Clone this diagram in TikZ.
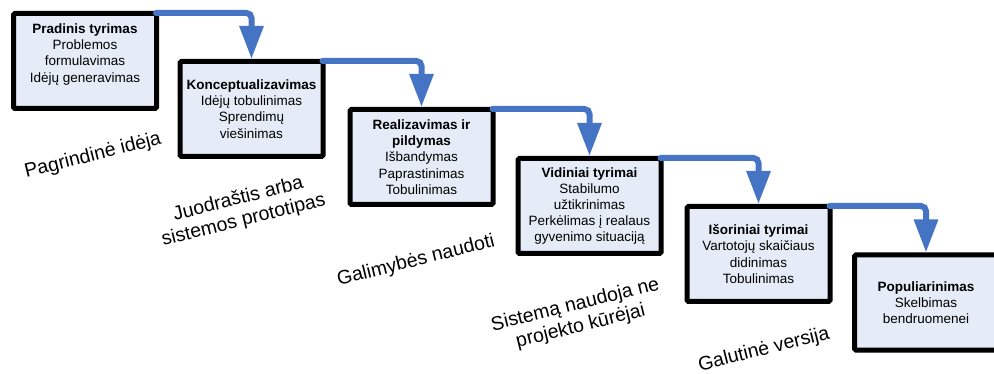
\documentclass[tikz,border=0pt]{standalone}
\usepackage{fontspec}
\setmainfont{Liberation Sans}
\usetikzlibrary{arrows.meta,calc}
\definecolor{boxfill}{RGB}{230,236,247}
\definecolor{flowblue}{RGB}{70,116,196}
\tikzset{
 stage/.style={draw=black, line width=5pt, fill=boxfill, rounded corners=1.5pt, minimum width=143pt, minimum height=95pt, inner sep=0pt, align=center, font=\fontsize{13.5}{16.2}\selectfont},
 flow/.style={draw=flowblue, line width=6pt, rounded corners=5pt, line cap=round, -{Triangle[length=33pt,width=23pt]}},
 phase/.style={rotate=14, align=center, inner sep=0pt, font=\fontsize{19.5}{22}\selectfont}
}
\begin{document}
\begin{tikzpicture}[x=1pt,y=-1pt]
\useasboundingbox (0,0) rectangle (994,374);
\clip (0,0) rectangle (994,374);
\node[stage] (b1) at (85,61) {\textbf{Pradinis tyrimas}\\Problemos\\formulavimas\\Idėjų generavimas\\\mbox{}};
\node[stage] (b2) at (251.5,109) {\textbf{Konceptualizavimas}\\Idėjų tobulinimas\\Sprendimų\\viešinimas};
\node[stage] (b3) at (421.5,157) {\textbf{Realizavimas ir}\\\textbf{pildymas}\\Išbandymas\\Paprastinimas\\Tobulinimas};
\node[stage] (b4) at (589.5,206) {\textbf{Vidiniai tyrimai}\\Stabilumo\\užtikrinimas\\Perkėlimas į realaus\\gyvenimo situaciją};
\node[stage] (b5) at (758.5,254) {\textbf{Išoriniai tyrimai}\\Vartotojų skaičiaus\\didinimas\\Tobulinimas};
\node[stage] (b6) at (926,302.5) {\textbf{Populiarinimas}\\Skelbimas\\bendruomenei};
\draw[flow] ($(b1.north east)+(-3,2)$) -| (b2.north);
\draw[flow] ($(b2.north east)+(-3,2)$) -| (b3.north);
\draw[flow] ($(b3.north east)+(-3,2)$) -| (b4.north);
\draw[flow] ($(b4.north east)+(-3,2)$) -| (b5.north);
\draw[flow] ($(b5.north east)+(-3,2)$) -| (b6.north);
\node[phase] (p1) at (93,156) {Pagrindinė idėja};
\node[phase] (p2) at (241,210) {Juodraštis arba\\sistemos prototipas};
\node[phase] (p3) at (416,261) {Galimybės naudoti};
\node[phase] (p4) at (578,316) {Sistemą naudoja ne\\projekto kūrėjai};
\node[phase] (p5) at (764,350) {Galutinė versija};
\end{tikzpicture}
\end{document}
